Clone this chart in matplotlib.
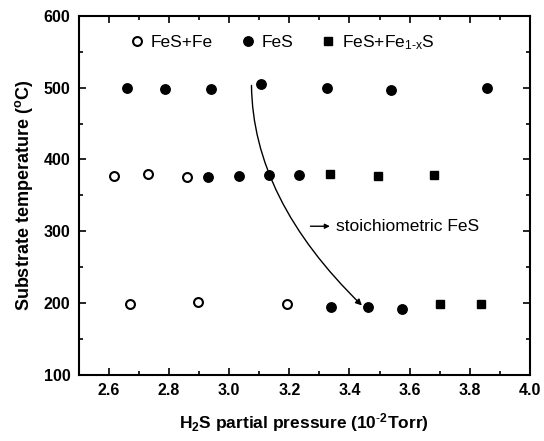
import matplotlib
matplotlib.use('Agg')
import matplotlib.pyplot as plt
from matplotlib.ticker import MultipleLocator
from matplotlib.patches import FancyArrowPatch

plt.rcParams['font.family'] = ['Liberation Sans', 'DejaVu Sans']
plt.rcParams['mathtext.fontset'] = 'custom'
plt.rcParams['mathtext.rm'] = 'Liberation Sans'
plt.rcParams['mathtext.it'] = 'Liberation Sans'
plt.rcParams['mathtext.bf'] = 'Liberation Sans:bold'

# FeS+Fe (open circles)
fe_x = [2.618, 2.731, 2.858, 2.671, 2.896, 3.193]
fe_y = [377.6, 380.0, 375.8, 199.3, 201.2, 198.9]

# FeS (filled circles)
fes_x = [2.660, 2.787, 2.939, 3.106, 3.324, 3.537, 3.859,
         2.931, 3.032, 3.132, 3.231,
         3.338, 3.462, 3.575]
fes_y = [500.0, 498.5, 498.5, 505.0, 499.7, 497.0, 500.0,
         376.0, 377.6, 379.0, 379.0,
         194.7, 194.3, 192.0]

# FeS+Fe1-xS (squares)
fe1x_x = [3.336, 3.496, 3.680, 3.700, 3.836]
fe1x_y = [379.5, 377.0, 378.5, 198.4, 198.4]

# curve through the stoichiometric points
curve_start = (3.074, 507)
curve_end = (3.448, 194)
note_arrow = (3.261, 3.344, 307)

fig = plt.figure(figsize=(5.44, 4.41), dpi=100)
ax = fig.add_axes([0.145, 0.150, 0.829, 0.814])

ax.plot(fe_x, fe_y, 'o', mfc='white', mec='black', mew=1.5, ms=6.4, ls='none', label='FeS+Fe')
ax.plot(fes_x, fes_y, 'o', color='black', ms=6.8, ls='none', label='FeS')
ax.plot(fe1x_x, fe1x_y, 's', color='black', ms=5.4, ls='none',
        label=r'FeS+Fe$_{\mathrm{1\text{-}x}}$S')

# curve starts vertical and ends heading down-right
curve = FancyArrowPatch(curve_start, curve_end, connectionstyle='angle3,angleA=90,angleB=-44',
                        arrowstyle='-|>', mutation_scale=9, lw=1.0, color='black')
ax.add_patch(curve)

ax.annotate('', xy=(note_arrow[1], note_arrow[2]), xytext=(note_arrow[0], note_arrow[2]),
            arrowprops=dict(arrowstyle='-|>', lw=1.0, color='black', mutation_scale=7))
ax.text(note_arrow[1] + 0.012, note_arrow[2], 'stoichiometric FeS', fontsize=12.5,
        va='center', ha='left')

ax.set_xlim(2.5, 4.0)
ax.set_ylim(100, 600)
ax.xaxis.set_major_locator(MultipleLocator(0.2))
ax.xaxis.set_minor_locator(MultipleLocator(0.1))
ax.yaxis.set_major_locator(MultipleLocator(100))
ax.yaxis.set_minor_locator(MultipleLocator(50))
ax.set_xticks([2.6, 2.8, 3.0, 3.2, 3.4, 3.6, 3.8, 4.0])
ax.tick_params(which='both', direction='in', top=True, right=True, width=1.2)
ax.tick_params(which='major', length=5, labelsize=11.5, pad=6)
ax.tick_params(which='minor', length=3)
for lbl in ax.get_xticklabels() + ax.get_yticklabels():
    lbl.set_fontweight('bold')
for sp in ax.spines.values():
    sp.set_linewidth(1.5)

ax.set_xlabel(r'H$_\mathbf{2}$S partial pressure (10$^{\text{-}\mathbf{2}}$Torr)', fontsize=12.5,
              fontweight='bold', labelpad=9)
ax.set_ylabel(r'Substrate temperature ($^\mathbf{o}$C)', fontsize=13, fontweight='bold',
              labelpad=6)

ax.legend(loc='upper left', bbox_to_anchor=(0.071, 0.995), ncol=3, frameon=False,
          fontsize=12.5, handletextpad=0.2, columnspacing=1.4, handlelength=1.2)

fig.savefig('out.png', dpi=100)
